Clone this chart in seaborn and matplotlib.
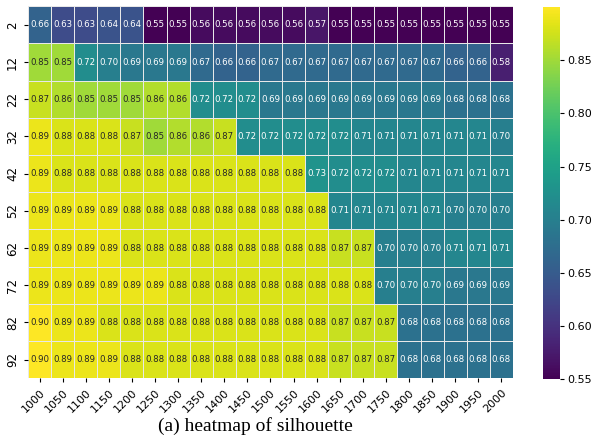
import numpy as np
import pandas as pd
import matplotlib
matplotlib.use("Agg")
import matplotlib.pyplot as plt
import seaborn as sns

col_labels = [1000, 1050, 1100, 1150, 1200, 1250, 1300, 1350, 1400, 1450, 1500,
              1550, 1600, 1650, 1700, 1750, 1800, 1850, 1900, 1950, 2000]
row_labels = [2, 12, 22, 32, 42, 52, 62, 72, 82, 92]

r2 = [0.66, 0.63, 0.63, 0.64, 0.64, 0.55, 0.55, 0.56, 0.56, 0.56, 0.56, 0.56, 0.57, 0.55, 0.55, 0.55, 0.55, 0.55, 0.55, 0.55, 0.55]
r12 = [0.85, 0.85, 0.72, 0.70, 0.69, 0.69, 0.69, 0.67, 0.66, 0.66, 0.67, 0.67, 0.67, 0.67, 0.67, 0.67, 0.67, 0.67, 0.66, 0.66, 0.58]
r22 = [0.87, 0.86, 0.85, 0.85, 0.85, 0.86, 0.86, 0.72, 0.72, 0.72, 0.69, 0.69, 0.69, 0.69, 0.69, 0.69, 0.69, 0.69, 0.68, 0.68, 0.68]
r32 = [0.89, 0.88, 0.88, 0.88, 0.87, 0.85, 0.86, 0.86, 0.87, 0.72, 0.72, 0.72, 0.72, 0.72, 0.71, 0.71, 0.71, 0.71, 0.71, 0.71, 0.70]
r42 = [0.89, 0.88, 0.88, 0.88, 0.88, 0.88, 0.88, 0.88, 0.88, 0.88, 0.88, 0.88, 0.73, 0.72, 0.72, 0.72, 0.71, 0.71, 0.71, 0.71, 0.71]
r52 = [0.89, 0.89, 0.89, 0.89, 0.88, 0.88, 0.88, 0.88, 0.88, 0.88, 0.88, 0.88, 0.88, 0.71, 0.71, 0.71, 0.71, 0.71, 0.70, 0.70, 0.70]
r62 = [0.89, 0.89, 0.89, 0.89, 0.88, 0.88, 0.88, 0.88, 0.88, 0.88, 0.88, 0.88, 0.88, 0.87, 0.87, 0.70, 0.70, 0.70, 0.71, 0.71, 0.71]
r72 = [0.89, 0.89, 0.89, 0.89, 0.89, 0.89, 0.88, 0.88, 0.88, 0.88, 0.88, 0.88, 0.88, 0.88, 0.88, 0.70, 0.70, 0.70, 0.69, 0.69, 0.69]
r82 = [0.90, 0.89, 0.89, 0.88, 0.88, 0.88, 0.88, 0.88, 0.88, 0.88, 0.88, 0.88, 0.88, 0.87, 0.87, 0.87, 0.68, 0.68, 0.68, 0.68, 0.68]
r92 = [0.90, 0.89, 0.89, 0.89, 0.88, 0.88, 0.88, 0.88, 0.88, 0.88, 0.88, 0.88, 0.88, 0.87, 0.87, 0.87, 0.68, 0.68, 0.68, 0.68, 0.68]

df = pd.DataFrame([r2, r12, r22, r32, r42, r52, r62, r72, r82, r92],
                  index=row_labels, columns=col_labels)

fig = plt.figure(figsize=(5.95, 4.45), dpi=100)
ax = fig.add_axes([0.047, 0.150, 0.815, 0.836])
cax = fig.add_axes([0.912, 0.148, 0.030, 0.836])

sns.heatmap(df, ax=ax, cbar_ax=cax, cmap="viridis", annot=True, fmt=".2f",
            annot_kws={"fontsize": 6.2}, linewidths=0.6, linecolor="#e8e8e8")

ax.tick_params(axis="x", labelsize=8, length=3)
ax.tick_params(axis="y", labelsize=8.5, rotation=90, length=3)
for lab in ax.get_xticklabels():
    lab.set_rotation(45)
    lab.set_ha("right")
    lab.set_rotation_mode("anchor")
for lab in ax.get_yticklabels():
    lab.set_va("center")
cax.tick_params(labelsize=8, length=3, pad=2)
cax.set_yticks([0.55, 0.60, 0.65, 0.70, 0.75, 0.80, 0.85])
for s in cax.spines.values():
    s.set_visible(False)

fig.text(0.43, 0.042, "(a) heatmap of silhouette", ha="center", va="center",
         fontsize=14, family="Liberation Serif")

fig.savefig("out.png", dpi=100)
